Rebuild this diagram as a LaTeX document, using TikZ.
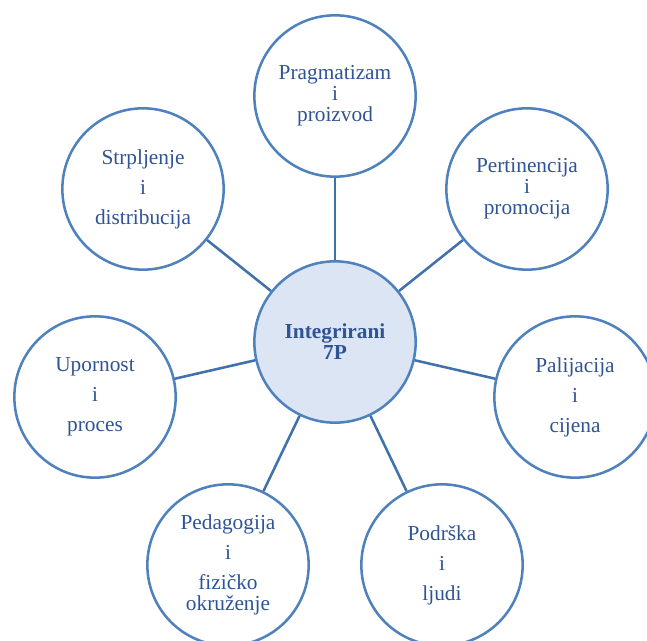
\documentclass[tikz,border=0pt]{standalone}
\usepackage{fontspec}
\setmainfont{Liberation Serif}
\usetikzlibrary{calc}
\definecolor{ringblue}{RGB}{79,129,189}
\definecolor{spokeblue}{RGB}{65,113,170}
\definecolor{textblue}{RGB}{47,84,150}
\definecolor{hubfill}{RGB}{219,229,243}
\tikzset{
  petal/.style={circle, draw=ringblue, line width=1.9pt, fill=white, minimum size=121pt, inner sep=0pt, align=center, text=textblue, font=\fontsize{16}{15.75}\selectfont},
  hub/.style={petal, fill=hubfill, font=\fontsize{16}{15.75}\selectfont\bfseries},
  spoke/.style={draw=spokeblue, line width=1.9pt}
}
\begin{document}
\begin{tikzpicture}[x=0.75pt,y=-0.75pt]
		%%%%% START %%%%%
		\useasboundingbox (0,0) rectangle (647,641);
		
		\node[hub] (hub) at (335, 342) {Integrirani\\7P};
		
		\node[petal] (pragma) at (335, 96) {Pragmatizam\\i\\proizvod};
		\node[petal] (perti) at (527, 189) {Pertinencija\\i\\promocija};
		\node[petal] (palij) at (575, 397) {Palijacija\\[6.75pt]i\\[6.75pt]cijena};
		\node[petal] (podrs) at (442, 565) {Podrška\\[6.75pt]i\\[6.75pt]ljudi};
		\node[petal] (pedag) at (228, 565) {Pedagogija\\[6.75pt]i\\[6.75pt]fizičko\\okruženje};
		\node[petal] (uporn) at (95, 397) {Upornost\\[6.75pt]i\\[6.75pt]proces};
		\node[petal] (strpl) at (143, 189) {Strpljenje\\[6.75pt]i\\[6.75pt]distribucija};
		
		\foreach \p in {pragma,perti,palij,podrs,pedag,uporn,strpl}
			\draw[spoke] (hub) -- (\p);
		%%%%% END %%%%%
	\end{tikzpicture}
\end{document}
